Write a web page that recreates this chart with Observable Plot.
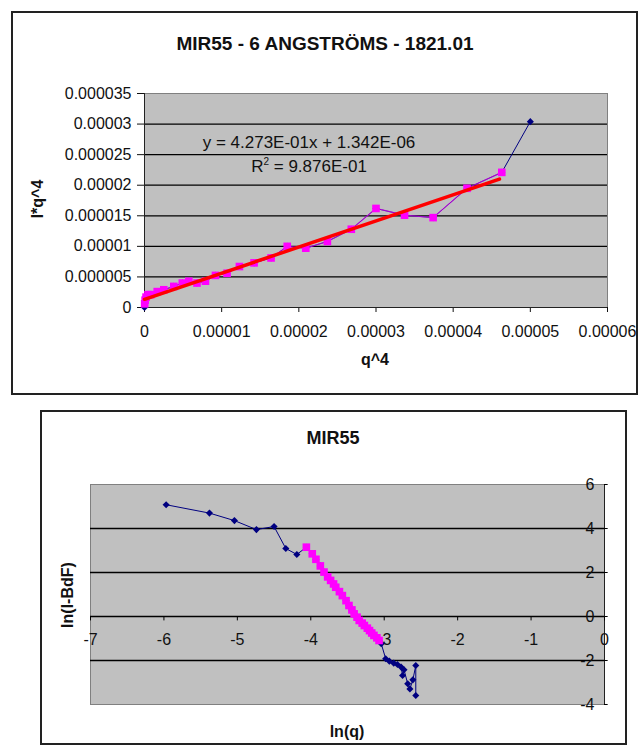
<!DOCTYPE html>
<html><head><meta charset="utf-8">
<script src="https://cdn.jsdelivr.net/npm/d3@7"></script>
<script src="https://cdn.jsdelivr.net/npm/@observablehq/plot@0.6"></script>
<style>
body{margin:0;background:#fff;font-family:"Liberation Sans",Arial,sans-serif;}
#page{position:relative;width:644px;height:756px;overflow:hidden;background:#fff}
.box{position:absolute;border:2px solid #222;box-sizing:border-box}
.t{position:absolute;white-space:nowrap;color:#111;transform:translate(-50%,-50%);line-height:1}
.b{font-weight:bold}
.rot{transform:translate(-50%,-50%) rotate(-90deg)}
.plotwrap{position:absolute}
</style></head><body><div id="page"></div>
<script>
// ---------- Chart 1: I*q^4 vs q^4 ----------
const topTitle = "MIR55 - 6 ANGSTRÖMS - 1821.01";
const topXTicks = [0, 0.00001, 0.00002, 0.00003, 0.00004, 0.00005, 0.00006];
const topXTickLabels = ["0", "0.00001", "0.00002", "0.00003", "0.00004", "0.00005", "0.00006"];
const topYTicks = [0, 0.000005, 0.00001, 0.000015, 0.00002, 0.000025, 0.00003, 0.000035];
const topYTickLabels = ["0", "0.000005", "0.00001", "0.000015", "0.00002", "0.000025", "0.00003", "0.000035"];
// full series (navy diamonds)
const allQ4 = [0, 0.02e-6, 0.08e-6, 0.2e-6, 0.45e-6, 0.8e-6, 1.65e-6, 2.5e-6, 3.8e-6, 4.9e-6, 5.75e-6, 6.8e-6, 7.9e-6, 9.2e-6, 10.7e-6, 12.3e-6, 14.2e-6, 16.4e-6, 18.5e-6, 20.9e-6, 23.7e-6, 26.8e-6, 30.0e-6, 33.7e-6, 37.4e-6, 41.8e-6, 46.3e-6, 50.0e-6];
const allIq4 = [0, 0.6e-6, 1.2e-6, 1.7e-6, 2.1e-6, 2.1e-6, 2.6e-6, 2.9e-6, 3.45e-6, 4.0e-6, 4.3e-6, 4.0e-6, 4.3e-6, 5.25e-6, 5.6e-6, 6.7e-6, 7.3e-6, 8.1e-6, 10.0e-6, 9.7e-6, 10.8e-6, 12.8e-6, 16.2e-6, 15.1e-6, 14.7e-6, 19.5e-6, 22.1e-6, 30.4e-6];
// fitted subset (magenta squares)
const fitQ4 = [0.02e-6, 0.08e-6, 0.2e-6, 0.45e-6, 0.8e-6, 1.65e-6, 2.5e-6, 3.8e-6, 4.9e-6, 5.75e-6, 6.8e-6, 7.9e-6, 9.2e-6, 10.7e-6, 12.3e-6, 14.2e-6, 16.4e-6, 18.5e-6, 20.9e-6, 23.7e-6, 26.8e-6, 30.0e-6, 33.7e-6, 37.4e-6, 41.8e-6, 46.3e-6];
const fitIq4 = [0.6e-6, 1.2e-6, 1.7e-6, 2.1e-6, 2.1e-6, 2.6e-6, 2.9e-6, 3.45e-6, 4.0e-6, 4.3e-6, 4.0e-6, 4.3e-6, 5.25e-6, 5.6e-6, 6.7e-6, 7.3e-6, 8.1e-6, 10.0e-6, 9.7e-6, 10.8e-6, 12.8e-6, 16.2e-6, 15.1e-6, 14.7e-6, 19.5e-6, 22.1e-6];
const trendSlope = 4.273e-1;
const trendIntercept = 1.342e-6;
const trendRange = [0, 46.0e-6];
const eqText = "y = 4.273E-01x + 1.342E-06";
const r2Text = "9.876E-01";

// ---------- Chart 2: ln(I-BdF) vs ln(q) ----------
const botTitle = "MIR55";
const lnXTicks = [-7, -6, -5, -4, -3, -2, -1, 0];
const lnXTickLabels = ["-7", "-6", "-5", "-4", "-3", "-2", "-1", "0"];
const lnYTicks = [-4, -2, 0, 2, 4, 6];
const lnYTickLabels = ["-4", "-2", "0", "2", "4", "6"];
const lnqAll = [-5.97, -5.38, -5.04, -4.74, -4.50, -4.34, -4.19, -4.06, -3.98, -3.93, -3.87, -3.82, -3.77, -3.73, -3.69, -3.66, -3.61, -3.57, -3.52, -3.48, -3.44, -3.41, -3.37, -3.34, -3.30, -3.27, -3.23, -3.20, -3.17, -3.14, -3.10, -3.07, -3.04, -2.98, -2.93, -2.87, -2.82, -2.77, -2.75, -2.73, -2.68, -2.65, -2.61, -2.57, -2.57];
const lnIAll = [5.08, 4.70, 4.36, 3.95, 4.09, 3.09, 2.82, 3.15, 2.85, 2.60, 2.30, 2.02, 1.80, 1.64, 1.48, 1.33, 1.13, 0.95, 0.72, 0.50, 0.30, 0.12, -0.03, -0.18, -0.30, -0.41, -0.53, -0.64, -0.75, -0.86, -0.97, -1.09, -1.24, -1.92, -2.03, -2.12, -2.18, -2.30, -2.68, -2.42, -3.06, -3.29, -2.88, -2.23, -3.59];
const lnqFit = [-4.06, -3.98, -3.93, -3.87, -3.82, -3.77, -3.73, -3.69, -3.66, -3.61, -3.57, -3.52, -3.48, -3.44, -3.41, -3.37, -3.34, -3.30, -3.27, -3.23, -3.20, -3.17, -3.14, -3.10, -3.07];
const lnIFit = [3.15, 2.85, 2.60, 2.30, 2.02, 1.80, 1.64, 1.48, 1.33, 1.13, 0.95, 0.72, 0.50, 0.30, 0.12, -0.03, -0.18, -0.30, -0.41, -0.53, -0.64, -0.75, -0.86, -0.97, -1.09];

const NAVY = "#000080", MAG = "#FF00FF", BG = "#C0C0C0", BORDER = "#808080";
const page = document.getElementById("page");

function addDiv(cls, left, top, html, extra) {
  const d = document.createElement("div");
  d.className = cls;
  d.style.left = left + "px";
  d.style.top = top + "px";
  if (extra) Object.assign(d.style, extra);
  d.innerHTML = html;
  page.appendChild(d);
  return d;
}

// boxes
addDiv("box", 11, 11, "", {width: "627px", height: "384px"});
addDiv("box", 40, 410, "", {width: "587px", height: "335px"});

const allTop = allQ4.map((x, i) => ({x, y: allIq4[i]}));
const fitTop = fitQ4.map((x, i) => ({x, y: fitIq4[i]}));
const trend = trendRange.map(x => ({x, y: trendSlope * x + trendIntercept}));

const chart1 = Plot.plot({
  width: 625, height: 382,
  marginLeft: 132, marginRight: 30, marginTop: 81, marginBottom: 87,
  style: {fontFamily: "Liberation Sans, Arial, sans-serif", fontSize: "16px", color: "#111", background: "transparent", overflow: "visible"},
  x: {domain: [0, 0.00006]},
  y: {domain: [0, 0.000035]},
  marks: [
    Plot.frame({fill: BG, stroke: BORDER}),
    Plot.ruleY(topYTicks.filter(v => v > 0 && v < 0.000035), {stroke: "#000", strokeWidth: 1.3}),
    Plot.axisY({ticks: topYTicks, tickFormat: d => topYTickLabels[topYTicks.indexOf(d)], tickSize: 7, tickPadding: 6, label: null}),
    Plot.axisX({ticks: topXTicks, tickFormat: d => topXTickLabels[topXTicks.indexOf(d)], tickSize: 5, tickPadding: 13, label: null}),
    Plot.ruleX([0], {stroke: "#222"}),
    Plot.ruleY([0], {stroke: "#222"}),
    Plot.line(allTop, {x: "x", y: "y", stroke: NAVY, strokeWidth: 1}),
    Plot.line(fitTop, {x: "x", y: "y", stroke: MAG, strokeWidth: 1.2, strokeOpacity: 0.6}),
    Plot.dot(allTop, {x: "x", y: "y", symbol: "diamond2", r: 3.2, fill: NAVY, stroke: "none"}),
    Plot.dot(fitTop, {x: "x", y: "y", symbol: "square", r: 4.3, fill: MAG, stroke: "none"}),
    Plot.line(trend, {x: "x", y: "y", stroke: "#FF0000", strokeWidth: 3.5})
  ]
});
const w1 = document.createElement("div");
w1.className = "plotwrap";
w1.style.left = "12px"; w1.style.top = "12px";
w1.appendChild(chart1);
page.appendChild(w1);

addDiv("t b", 325, 43, topTitle, {fontSize: "19px"});
addDiv("t", 309, 142, eqText, {fontSize: "17px"});
addDiv("t", 309, 166, "R<sup style='font-size:10px;vertical-align:7px'>2</sup> = " + r2Text, {fontSize: "17px"});
addDiv("t b rot", 38, 199, "I*q^4", {fontSize: "16px"});
addDiv("t b", 375, 360, "q^4", {fontSize: "16px"});

// chart 2
const allBot = lnqAll.map((x, i) => ({x, y: lnIAll[i]}));
const fitBot = lnqFit.map((x, i) => ({x, y: lnIFit[i]}));

const chart2 = Plot.plot({
  width: 585, height: 333,
  marginLeft: 49, marginRight: 22, marginTop: 73, marginBottom: 40,
  style: {fontFamily: "Liberation Sans, Arial, sans-serif", fontSize: "16px", color: "#111", background: "transparent", overflow: "visible"},
  x: {domain: [-7, 0], axis: null},
  y: {domain: [-4, 6], axis: null},
  marks: [
    Plot.frame({fill: BG, stroke: BORDER}),
    Plot.ruleY(lnYTicks.filter(v => v !== 0 && v > -4 && v < 6), {stroke: "#000", strokeWidth: 1.3}),
    Plot.ruleY([0], {stroke: "#000", strokeWidth: 1.3}),
    Plot.ruleX([0], {stroke: "#222"}),
    Plot.ruleX(lnXTicks, {x: d => d, y1: 0, y2: -0.2, stroke: "#000"}),
    Plot.ruleY(lnYTicks, {y: d => d, x1: 0, x2: 0.05, stroke: "#000"}),
    Plot.text(lnXTicks, {x: d => d, y: 0, dy: 23, text: (d, i) => lnXTickLabels[i], fontSize: 16, fill: "#111"}),
    Plot.text(lnYTicks, {x: 0, y: d => d, dx: -10, textAnchor: "end", text: (d, i) => lnYTickLabels[i], fontSize: 16, fill: "#111"}),
    Plot.line(allBot, {x: "x", y: "y", stroke: NAVY, strokeWidth: 1}),
    Plot.line(fitBot, {x: "x", y: "y", stroke: MAG, strokeWidth: 1.2, strokeOpacity: 0.6}),
    Plot.dot(allBot, {x: "x", y: "y", symbol: "diamond2", r: 3.2, fill: NAVY, stroke: "none"}),
    Plot.dot(fitBot, {x: "x", y: "y", symbol: "square", r: 4.3, fill: MAG, stroke: "none"})
  ]
});
const w2 = document.createElement("div");
w2.className = "plotwrap";
w2.style.left = "41px"; w2.style.top = "411px";
w2.appendChild(chart2);
page.appendChild(w2);

addDiv("t b", 333, 438, botTitle, {fontSize: "18px"});
addDiv("t b rot", 68, 595, "ln(I-BdF)", {fontSize: "16px"});
addDiv("t b", 347, 732, "ln(q)", {fontSize: "16px"});
</script></body></html>
